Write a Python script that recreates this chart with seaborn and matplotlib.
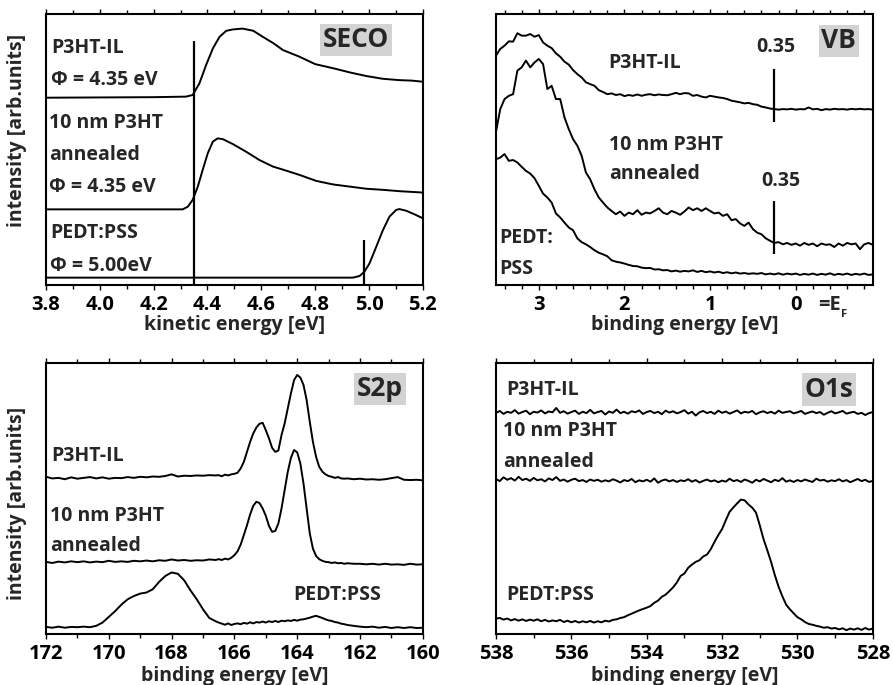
import seaborn as sns
import matplotlib
matplotlib.use("Agg")
import matplotlib.pyplot as plt
from matplotlib.ticker import MultipleLocator, FormatStrFormatter

# ---------------- data (intensity in arb. units, 0-100) ----------------
# SECO (kinetic energy, eV)
seco_il_x = [3.80, 4.00, 4.20, 4.32, 4.345, 4.37, 4.395, 4.42, 4.445, 4.47, 4.495, 4.53,
             4.57, 4.605, 4.645, 4.68, 4.74, 4.80, 4.87, 4.93, 4.99, 5.05, 5.11, 5.16, 5.20]
seco_il_y = [69.1, 69.2, 69.3, 69.5, 70.1, 74.4, 81.2, 87.3, 91.6, 93.8, 94.3, 94.6,
             93.8, 91.6, 89.2, 86.7, 84.3, 81.5, 79.9, 78.4, 77.1, 76.1, 75.6, 75.4, 75.0]
seco_ann_x = [3.80, 4.00, 4.20, 4.308, 4.327, 4.345, 4.364, 4.382, 4.401, 4.42, 4.438, 4.457,
              4.494, 4.543, 4.593, 4.643, 4.692, 4.742, 4.804, 4.866, 4.928, 4.99, 5.052, 5.114, 5.20]
seco_ann_y = [27.9, 27.9, 27.9, 27.9, 28.9, 31.4, 36.3, 42.4, 48.6, 52.9, 54.1, 53.8,
              52.0, 49.2, 46.1, 43.7, 42.2, 40.6, 38.4, 37.1, 36.3, 35.5, 35.1, 34.6, 34.1]
seco_pss_x = [3.80, 4.40, 4.94, 4.965, 4.983, 5.002, 5.027, 5.052, 5.076, 5.101, 5.113, 5.138, 5.175, 5.20]
seco_pss_y = [2.7, 2.7, 2.7, 3.3, 4.9, 8.0, 14.1, 20.3, 25.2, 27.7, 28.0, 27.4, 25.8, 24.6]
seco_cut_x = [4.35, 4.98]
seco_cut_top = [90.2, 16.6]

# VB (binding energy, eV)
vb_x = [3.50, 3.45, 3.40, 3.35, 3.30, 3.25, 3.20, 3.15, 3.10, 3.05,
        3.00, 2.95, 2.90, 2.85, 2.80, 2.75, 2.70, 2.65, 2.60, 2.55,
        2.50, 2.45, 2.40, 2.35, 2.30, 2.25, 2.20, 2.15, 2.10, 2.05,
        2.00, 1.95, 1.90, 1.85, 1.80, 1.75, 1.70, 1.65, 1.60, 1.55,
        1.50, 1.45, 1.40, 1.35, 1.30, 1.25, 1.20, 1.15, 1.10, 1.05,
        1.00, 0.95, 0.90, 0.85, 0.80, 0.75, 0.70, 0.65, 0.60, 0.55,
        0.50, 0.45, 0.40, 0.35, 0.30, 0.25, 0.20, 0.15, 0.10, 0.05,
        0.00, -0.05, -0.10, -0.15, -0.20, -0.25, -0.30, -0.35, -0.40, -0.45,
        -0.50, -0.55, -0.60, -0.65, -0.70, -0.75, -0.80, -0.85, -0.90]
vb_il = [84.6, 87.1, 88.3, 89.9, 89.8, 92.9, 92.0, 92.0, 92.6, 91.6,
         92.2, 89.5, 88.3, 87.4, 85.5, 84.2, 82.4, 81.3, 79.3, 77.8,
         76.6, 74.8, 74.1, 73.5, 71.9, 71.2, 70.4, 70.7, 70.1, 70.4,
         69.7, 70.1, 69.8, 70.3, 69.8, 70.2, 70.4, 70.0, 70.3, 70.1,
         70.0, 70.4, 70.9, 70.4, 70.8, 70.7, 69.8, 70.1, 69.5, 69.2,
         69.8, 69.5, 69.2, 69.0, 68.6, 68.0, 67.7, 67.4, 67.0, 67.2,
         66.7, 66.5, 65.8, 65.5, 65.1, 64.9, 64.7, 64.9, 64.8, 65.0,
         64.7, 64.9, 64.8, 65.5, 64.8, 65.0, 64.5, 64.9, 64.7, 65.0,
         64.8, 64.9, 64.7, 65.0, 64.8, 65.0, 64.8, 64.9, 64.7]
vb_ann = [56.5, 64.9, 68.6, 69.8, 70.4, 79.1, 80.3, 82.8, 80.3, 82.1,
          83.4, 81.5, 72.3, 73.5, 68.6, 68.6, 61.8, 57.5, 53.8, 51.4,
          47.7, 41.5, 39.0, 35.3, 32.3, 30.4, 28.6, 27.3, 26.1, 27.1,
          25.5, 26.7, 26.1, 27.6, 25.9, 26.7, 26.4, 27.3, 28.3, 26.7,
          26.1, 27.3, 26.7, 25.9, 27.1, 28.6, 27.6, 28.3, 27.3, 28.3,
          27.3, 26.4, 26.7, 25.5, 26.1, 23.9, 24.3, 22.7, 21.8, 23.0,
          20.6, 19.3, 18.7, 17.2, 16.3, 15.5, 15.8, 15.0, 15.5, 14.8,
          15.3, 14.5, 15.5, 14.8, 15.3, 14.3, 15.3, 14.8, 15.0, 14.0,
          15.3, 14.5, 15.5, 15.0, 15.3, 13.2, 15.0, 15.5, 14.8]
vb_pss = [46.4, 47.0, 48.3, 45.8, 46.1, 45.2, 43.6, 42.1, 41.1, 39.4,
          36.6, 33.7, 32.3, 30.4, 26.4, 24.9, 23.0, 21.2, 20.2, 17.2,
          15.8, 15.0, 14.0, 12.8, 11.9, 11.3, 10.6, 9.1, 8.6, 8.3,
          7.9, 7.4, 7.0, 6.9, 6.4, 6.2, 6.3, 5.7, 5.8, 5.4,
          5.5, 5.0, 5.3, 4.9, 5.2, 5.0, 5.4, 4.8, 5.2, 4.7,
          5.0, 4.6, 4.9, 4.4, 4.7, 4.3, 4.6, 4.2, 4.4, 4.1,
          4.3, 4.1, 4.4, 3.9, 4.2, 3.9, 4.3, 3.8, 4.2, 3.9,
          4.2, 3.7, 4.1, 3.8, 4.2, 3.7, 4.1, 3.8, 4.3, 3.7,
          4.1, 3.8, 4.2, 3.7, 4.1, 3.8, 4.2, 3.7, 3.9]
vb_mark_x = [0.25, 0.25]
vb_mark_lo = [60.0, 11.3]
vb_mark_hi = [79.7, 31.0]
vb_mark_lbl = ["0.35", "0.35"]
vb_mark_lbl_x = [0.23, 0.17]
vb_mark_lbl_y = [87.7, 38.4]

# S2p (binding energy, eV)
s2p_x = [172.0, 171.8, 171.6, 171.4, 171.2, 171.0, 170.8, 170.6, 170.4, 170.2,
         170.0, 169.8, 169.6, 169.4, 169.2, 169.0, 168.8, 168.6, 168.4, 168.2,
         168.0, 167.8, 167.6, 167.4, 167.2, 167.0, 166.8, 166.6,
         166.5, 166.4, 166.3, 166.2, 166.1, 166.0, 165.9, 165.8, 165.7, 165.6,
         165.5, 165.4, 165.3, 165.2, 165.1, 165.0, 164.9, 164.8, 164.7, 164.6,
         164.5, 164.4, 164.3, 164.2, 164.1, 164.0, 163.9, 163.8, 163.7, 163.6,
         163.5, 163.4, 163.3, 163.2, 163.1, 163.0, 162.9, 162.8, 162.7, 162.6,
         162.5,
         162.4, 162.2, 162.0, 161.8, 161.6, 161.4, 161.2, 161.0, 160.8, 160.6,
         160.4, 160.2, 160.0]
s2p_il = [58.0, 57.4, 57.6, 57.1, 57.8, 57.3, 57.6, 57.9, 57.4, 57.8,
          57.3, 57.6, 57.5, 57.9, 57.6, 58.0, 57.8, 58.1, 58.0, 58.3,
          58.9, 58.1, 58.4, 58.3, 58.5, 58.4, 58.6, 58.5,
          58.6, 58.2, 58.8, 58.5, 58.9, 59.1, 59.5, 61.1, 63.5, 67.2,
          70.9, 74.0, 76.2, 77.6, 77.9, 75.2, 72.2, 68.7, 67.2, 67.7,
          73.4, 77.7, 83.3, 88.8, 93.7, 95.6, 94.6, 91.9, 86.3, 78.3,
          70.9, 65.4, 61.7, 59.9, 58.9, 58.3, 58.0, 57.6, 57.9, 57.4,
          57.3,
          57.4, 57.1, 57.3, 57.0, 57.1, 56.9, 57.1, 57.5, 57.9, 56.9,
          56.8, 56.9, 56.7]
s2p_ann = [26.6, 26.2, 26.7, 26.4, 26.8, 26.5, 26.8, 26.4, 26.7, 26.5,
           27.0, 26.6, 26.8, 26.6, 27.0, 26.8, 27.1, 26.8, 27.2, 27.0,
           27.5, 27.1, 27.3, 27.0, 27.2, 27.1, 27.5, 27.3,
           27.6, 27.3, 27.8, 27.5, 28.1, 29.1, 30.5, 33.0, 36.5, 40.1,
           44.1, 47.3, 48.8, 48.3, 46.3, 43.6, 39.9, 37.7, 38.0, 40.8,
           46.3, 53.1, 59.9, 65.0, 67.9, 67.0, 62.9, 55.5, 46.3, 37.1,
           31.5, 28.8, 27.6, 27.0, 26.6, 26.5, 26.2, 26.4, 26.1, 26.2,
           25.9,
           26.1, 25.9, 25.9, 25.7, 25.9, 25.6, 25.9, 25.6, 25.7, 25.5,
           25.9, 25.6, 25.7]
s2p_pss = [2.6, 2.3, 2.7, 2.3, 2.6, 2.5, 2.7, 2.5, 3.0, 4.2,
           6.3, 8.4, 10.8, 12.8, 14.0, 14.9, 15.3, 16.5, 19.2, 21.4,
           22.7, 22.2, 19.8, 16.1, 12.8, 9.1, 5.9, 4.7,
           4.2, 3.8, 3.4, 3.9, 3.3, 3.7, 3.9, 3.6, 4.1, 3.8,
           4.3, 3.9, 4.4, 4.2, 4.6, 4.2, 4.7, 4.4, 4.8, 4.4,
           4.9, 4.7, 5.0, 4.8, 5.2, 4.9, 5.3, 5.4, 5.7, 6.0,
           6.4, 6.7, 6.3, 5.9, 5.4, 5.0, 4.8, 4.4, 4.2, 3.8,
           3.6,
           3.3, 3.0, 2.7, 2.5, 2.7, 2.3, 2.6, 2.2, 2.5, 2.2,
           2.5, 2.2, 2.3]

# O1s (binding energy, eV)
o1s_x = [538.0, 537.9, 537.8, 537.7, 537.6, 537.5, 537.4, 537.3, 537.2, 537.1,
         537.0, 536.9, 536.8, 536.7, 536.6, 536.5, 536.4, 536.3, 536.2, 536.1,
         536.0, 535.9, 535.8, 535.7, 535.6, 535.5, 535.4, 535.3, 535.2, 535.1,
         535.0, 534.9, 534.8, 534.7, 534.6, 534.5, 534.4, 534.3, 534.2, 534.1,
         534.0, 533.9, 533.8, 533.7, 533.6, 533.5, 533.4, 533.3, 533.2, 533.1,
         533.0, 532.9, 532.8, 532.7, 532.6, 532.5, 532.4, 532.3, 532.2, 532.1,
         532.0, 531.9, 531.8, 531.7, 531.6, 531.5, 531.4, 531.3, 531.2, 531.1,
         531.0, 530.9, 530.8, 530.7, 530.6, 530.5, 530.4, 530.3, 530.2, 530.1,
         530.0, 529.9, 529.8, 529.7, 529.6, 529.5, 529.4, 529.3, 529.2, 529.1,
         529.0, 528.9, 528.8, 528.7, 528.6, 528.5, 528.4, 528.3, 528.2, 528.1,
         528.0]
o1s_il = [81.5, 82.3, 81.2, 82.0, 81.6, 82.6, 81.3, 81.9, 82.4, 81.1,
          82.0, 81.7, 82.5, 81.4, 82.1, 81.8, 83.4, 81.6, 82.2, 81.3,
          81.9, 82.4, 81.2, 82.0, 81.5, 82.7, 81.4, 81.9, 82.3, 81.0,
          82.1, 81.6, 82.8, 81.5, 82.0, 81.3, 82.2, 81.8, 82.5, 81.2,
          81.9, 82.3, 81.5, 82.0, 81.1, 82.4, 81.7, 82.2, 81.4, 81.9,
          82.6, 81.3, 82.0, 80.6, 81.8, 82.3, 81.5, 82.0, 81.2, 82.4,
          81.6, 82.1, 81.3, 81.9, 82.5, 81.4, 82.0, 81.7, 82.3, 81.1,
          81.8, 82.2, 81.5, 82.0, 81.3, 82.4, 81.6, 81.9, 82.2, 81.4,
          81.8, 82.3, 81.2, 81.7, 82.1, 81.5, 81.9, 80.9, 81.6, 82.2,
          81.4, 81.8, 82.3, 81.3, 81.7, 82.0, 81.2, 81.6, 80.8, 81.5,
          81.9]
o1s_ann = [57.2, 56.4, 57.8, 56.9, 57.5, 56.6, 58.0, 56.8, 57.3, 56.5,
           57.6, 56.7, 57.1, 56.3, 57.4, 56.8, 57.9, 56.5, 57.0, 56.2,
           56.9, 57.3, 56.4, 56.8, 56.1, 57.0, 56.5, 56.9, 56.2, 56.7,
           56.3, 57.1, 56.6, 55.9, 56.8, 56.4, 57.2, 56.0, 56.7, 56.3,
           56.9, 56.2, 57.4, 55.8, 56.6, 57.0, 56.3, 56.8, 56.1, 56.7,
           56.4, 57.1, 56.2, 56.8, 55.9, 56.5, 57.0, 56.3, 56.7, 56.0,
           56.6, 56.2, 57.3, 56.4, 56.8, 56.1, 57.0, 56.5, 55.8, 56.9,
           56.3, 57.2, 56.6, 56.0, 56.9, 56.4, 57.5, 56.2, 56.7, 56.1,
           56.8, 56.3, 57.0, 56.5, 56.1, 57.3, 56.6, 56.9, 56.2, 56.7,
           56.4, 57.1, 56.3, 56.8, 56.0, 56.6, 57.2, 56.4, 56.9, 56.1,
           56.5]
o1s_pss = [5.7, 5.9, 5.3, 5.7, 5.0, 5.5, 4.9, 5.4, 4.8, 5.3,
           4.9, 5.4, 4.7, 5.2, 4.6, 5.0, 4.7, 5.2, 4.4, 4.9,
           4.3, 4.8, 4.2, 4.7, 4.3, 4.8, 4.2, 4.7, 4.3, 4.9,
           4.6, 5.2, 5.4, 5.9, 6.2, 6.9, 7.5, 8.1, 8.7, 9.2,
           9.7, 10.3, 11.5, 12.3, 13.7, 14.5, 15.8, 17.2, 19.0, 21.4,
           22.3, 24.4, 25.6, 26.6, 27.2, 28.6, 29.3, 31.3, 34.0, 36.5,
           38.7, 42.0, 45.1, 46.7, 48.2, 49.6, 49.3, 47.8, 46.6, 44.8,
           40.1, 35.0, 30.9, 26.6, 21.7, 17.4, 13.9, 10.8, 9.1, 7.6,
           6.2, 5.4, 4.4, 3.7, 3.4, 3.0, 2.7, 2.3, 2.5, 2.0,
           2.2, 1.7, 2.1, 1.4, 2.0, 1.6, 2.1, 1.5, 2.2, 1.6,
           2.0]

# ---------------- style ----------------
sns.set_theme(style="ticks")
plt.rcParams['font.family'] = ['Open Sans', 'DejaVu Sans']
plt.rcParams['font.weight'] = 'bold'
plt.rcParams['axes.labelweight'] = 'bold'
plt.rcParams['font.size'] = 14

FS = 14
TICK_FS = 14.5
TAG_FS = 19
LW = 1.4
GREY = '#d3d3d3'

fig = plt.figure(figsize=(8.93, 6.85), dpi=100)
ax_seco = fig.add_axes([0.0515, 0.584, 0.422, 0.3956])
ax_vb = fig.add_axes([0.5554, 0.584, 0.422, 0.3956])
ax_s2p = fig.add_axes([0.0515, 0.0745, 0.422, 0.3956])
ax_o1s = fig.add_axes([0.5554, 0.0745, 0.422, 0.3956])


def draw(ax, x, y):
    sns.lineplot(x=x, y=y, ax=ax, color='black', linewidth=LW, estimator=None, sort=False)


def style(ax, xlim, major, minor, fmt, xlabel, lpad=0):
    ax.set_xlim(*xlim)
    ax.set_ylim(0, 100)
    ax.xaxis.set_major_locator(MultipleLocator(major))
    ax.xaxis.set_minor_locator(MultipleLocator(minor))
    ax.xaxis.set_major_formatter(FormatStrFormatter(fmt))
    ax.tick_params(axis='x', which='both', direction='out', top=True, bottom=True,
                   width=1.0, labelsize=TICK_FS, pad=3.5, colors='black')
    ax.tick_params(axis='x', which='major', length=3.5)
    ax.tick_params(axis='x', which='minor', length=3)
    ax.set_yticks([])
    for sp in ax.spines.values():
        sp.set_linewidth(1.5)
        sp.set_color('black')
    ax.set_xlabel(xlabel, fontsize=FS, labelpad=lpad)
    ax.set_ylabel('')


def label(ax, xf, y, s, **kw):
    ax.text(xf, y, s, transform=ax.get_yaxis_transform(), fontsize=FS,
            ha='left', va='center', **kw)


def tag(ax, xf, y, s):
    ax.text(xf, y, s, transform=ax.get_yaxis_transform(), fontsize=TAG_FS,
            ha='center', va='center',
            bbox=dict(boxstyle='square,pad=0.1', fc=GREY, ec='none'))


# SECO
draw(ax_seco, seco_il_x, seco_il_y)
draw(ax_seco, seco_ann_x, seco_ann_y)
draw(ax_seco, seco_pss_x, seco_pss_y)
ax_seco.vlines(seco_cut_x, 0, seco_cut_top, color='black', linewidth=1.6)
style(ax_seco, (3.8, 5.2), 0.2, 0.1, '%.1f', 'kinetic energy [eV]')
label(ax_seco, 0.013, 87.3, 'P3HT-IL')
label(ax_seco, 0.013, 75.6, 'Φ = 4.35 eV')
label(ax_seco, 0.009, 59.7, '10 nm P3HT')
label(ax_seco, 0.009, 48.0, 'annealed')
label(ax_seco, 0.009, 36.3, 'Φ = 4.35 eV')
label(ax_seco, 0.011, 19.1, 'PEDT:PSS')
label(ax_seco, 0.011, 7.1, 'Φ = 5.00eV')
tag(ax_seco, 0.822, 90.4, 'SECO')
ax_seco.set_ylabel('intensity [arb.units]', fontsize=FS)
ax_seco.yaxis.set_label_coords(-0.05, 0.572)

# VB
draw(ax_vb, vb_x, vb_il)
draw(ax_vb, vb_x, vb_ann)
draw(ax_vb, vb_x, vb_pss)
ax_vb.vlines(vb_mark_x, vb_mark_lo, vb_mark_hi, color='black', linewidth=1.6)
for lx, ly, s in zip(vb_mark_lbl_x, vb_mark_lbl_y, vb_mark_lbl):
    ax_vb.text(lx, ly, s, fontsize=FS, ha='center', va='center')
style(ax_vb, (3.5, -0.9), 1, 0.2, '%d', 'binding energy [eV]')
label(ax_vb, 0.297, 81.8, 'P3HT-IL')
label(ax_vb, 0.30, 51.7, '10 nm P3HT')
label(ax_vb, 0.30, 41.0, 'annealed')
label(ax_vb, 0.008, 17.2, 'PEDT:')
label(ax_vb, 0.008, 5.8, 'PSS')
tag(ax_vb, 0.910, 90.1, 'VB')
ax_vb.text(0.854, -0.075, '=E', transform=ax_vb.transAxes, fontsize=TICK_FS, ha='left', va='center')
ax_vb.text(0.916, -0.108, 'F', transform=ax_vb.transAxes, fontsize=8, ha='left', va='center')

# S2p
draw(ax_s2p, s2p_x, s2p_il)
draw(ax_s2p, s2p_x, s2p_ann)
draw(ax_s2p, s2p_x, s2p_pss)
style(ax_s2p, (172, 160), 2, 1, '%d', 'binding energy [eV]', lpad=1.5)
label(ax_s2p, 0.013, 65.8, 'P3HT-IL')
label(ax_s2p, 0.011, 43.6, '10 nm P3HT')
label(ax_s2p, 0.011, 32.3, 'annealed')
label(ax_s2p, 0.655, 14.4, 'PEDT:PSS')
tag(ax_s2p, 0.886, 90.5, 'S2p')
ax_s2p.set_ylabel('intensity [arb.units]', fontsize=FS)
ax_s2p.yaxis.set_label_coords(-0.05, 0.483)

# O1s
draw(ax_o1s, o1s_x, o1s_il)
draw(ax_o1s, o1s_x, o1s_ann)
draw(ax_o1s, o1s_x, o1s_pss)
style(ax_o1s, (538, 528), 2, 1, '%d', 'binding energy [eV]', lpad=1.5)
label(ax_o1s, 0.027, 90.1, 'P3HT-IL')
label(ax_o1s, 0.019, 75.0, '10 nm P3HT')
label(ax_o1s, 0.019, 63.3, 'annealed')
label(ax_o1s, 0.028, 14.2, 'PEDT:PSS')
tag(ax_o1s, 0.884, 90.2, 'O1s')

fig.savefig('out.png', dpi=100)
